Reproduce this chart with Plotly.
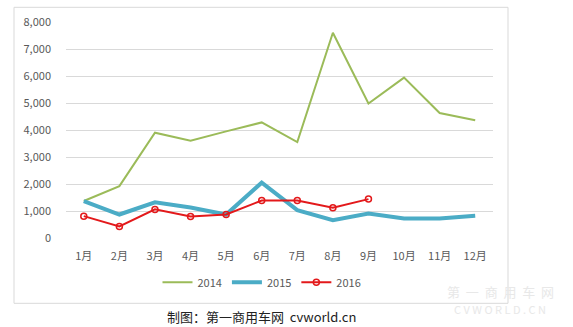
import plotly.graph_objects as go

months = ["1月", "2月", "3月", "4月", "5月", "6月", "7月", "8月", "9月", "10月", "11月", "12月"]
s2014 = [1370, 1920, 3900, 3600, 3950, 4280, 3550, 7600, 4980, 5940, 4630, 4360]
s2015 = [1370, 870, 1320, 1130, 870, 2050, 1030, 660, 910, 720, 720, 820]
s2016 = [810, 430, 1060, 800, 870, 1390, 1390, 1120, 1440]
y_ticks = [0, 1000, 2000, 3000, 4000, 5000, 6000, 7000, 8000]

W, H = 573, 327
L, R, T, B = 66, 493, 21.7, 237.7
pw, ph = R - L, B - T
def px(x): return (x - L) / pw
def py(y): return (B - y) / ph

fig = go.Figure()
fig.add_trace(go.Scatter(x=months, y=s2014, name="2014", mode="lines",
                         line=dict(color="#9BBB59", width=2)))
fig.add_trace(go.Scatter(x=months, y=s2015, name="2015", mode="lines",
                         line=dict(color="#4BACC6", width=4)))
fig.add_trace(go.Scatter(x=months[:len(s2016)], y=s2016, name="2016", mode="lines+markers",
                         line=dict(color="#E3191B", width=2),
                         marker=dict(symbol="circle-open", size=6, color="#E3191B",
                                     line=dict(width=1.5, color="#E3191B"))))

fig.update_layout(
    width=W, height=H,
    margin=dict(l=L, r=W - R, t=T, b=H - B),
    paper_bgcolor="white", plot_bgcolor="white",
    font=dict(family="Noto Sans CJK SC, Noto Sans, sans-serif", size=11, color="#595959"),
    xaxis=dict(showgrid=False, zeroline=False, showline=False, ticks="",
               ticklabelstandoff=10,
               tickfont=dict(size=11, color="#595959"), range=[-0.5, 11.5]),
    yaxis=dict(range=[0, 8000], tickvals=y_ticks, tickformat=",d", showgrid=True,
               gridcolor="#D9D9D9", gridwidth=1, zeroline=False, showline=False,
               ticks="", ticklabelstandoff=14, tickfont=dict(size=11, color="#595959")),
    legend=dict(orientation="h", x=px(262), y=py(282), xanchor="center", yanchor="middle",
                font=dict(size=11, color="#595959"), itemwidth=30, bgcolor="rgba(0,0,0,0)"),
    showlegend=True,
    shapes=[dict(type="rect", xref="paper", yref="paper",
                 x0=px(14), x1=px(508), y0=py(303), y1=py(7),
                 line=dict(color="#D9D9D9", width=1), layer="below")],
    annotations=[
        dict(text="制图：第一商用车网  cvworld.cn", xref="paper", yref="paper",
             x=px(261), y=py(316), xanchor="center", yanchor="middle", showarrow=False,
             font=dict(size=13, color="#222222")),
        dict(text="第  一  商  用  车  网", xref="paper", yref="paper",
             x=px(500), y=py(291), xanchor="center", yanchor="middle", showarrow=False,
             font=dict(size=13, color="#E8E8E8")),
        dict(text="C V W O R L D . C N", xref="paper", yref="paper",
             x=px(500), y=py(309), xanchor="center", yanchor="middle", showarrow=False,
             font=dict(size=11, color="#E8E8E8")),
    ],
)

fig.write_html("out.html")
